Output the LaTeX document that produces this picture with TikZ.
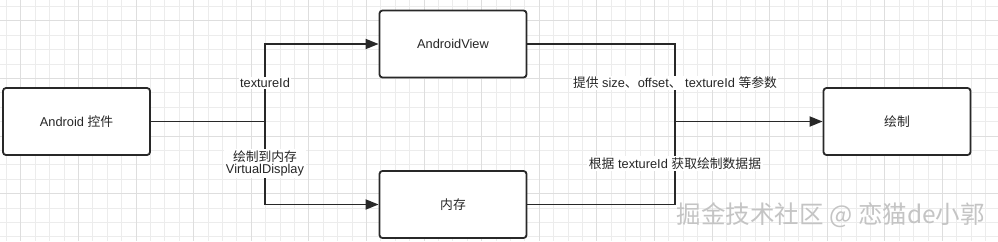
\documentclass[tikz,border=0pt]{standalone}
\usepackage{fontspec}
\setmainfont{Liberation Sans}
\newfontfamily\cjk{Noto Sans CJK SC}
\usetikzlibrary{arrows.meta}
\definecolor{gridminor}{RGB}{236,236,236}
\definecolor{gridmajor}{RGB}{222,222,222}
\definecolor{edge}{RGB}{40,40,40}
\definecolor{wm}{RGB}{196,196,196}
\begin{document}
\begin{tikzpicture}[x=1pt,y=-1pt,
  box/.style={draw=edge,line width=1.8pt,rounded corners=3pt,fill=white,minimum width=147pt,minimum height=67pt,inner sep=0pt,font=\fontsize{12.8}{15}\selectfont,text=black!85},
  conn/.style={draw=edge,line width=1.8pt},
  arr/.style={conn,-{Triangle[length=13pt,width=10pt]}},
  lbl/.style={fill=white,inner sep=1.5pt,font=\fontsize{12.8}{15}\selectfont,text=black!85,align=center}]
\useasboundingbox (0,0) rectangle (998,241);
\fill[white] (0,0) rectangle (998,241);
% grid
\foreach \i in {0,...,69} {
  \pgfmathsetmacro{\gx}{6.3+14.4*\i}
  \draw[gridminor,line width=0.6pt] (\gx,0) -- (\gx,241);
}
\foreach \j in {0,...,16} {
  \pgfmathsetmacro{\gy}{6.3+14.4*\j}
  \draw[gridminor,line width=0.6pt] (0,\gy) -- (998,\gy);
}
\foreach \i in {0,...,17} {
  \pgfmathsetmacro{\gx}{20.7+57.6*\i}
  \draw[gridmajor,line width=0.7pt] (\gx,0) -- (\gx,241);
}
\foreach \j in {0,...,4} {
  \pgfmathsetmacro{\gy}{20.7+57.6*\j}
  \draw[gridmajor,line width=0.7pt] (0,\gy) -- (998,\gy);
}
% nodes
\node[box] (android) at (76.5,121.5) {Android {\cjk 控件}};
\node[box] (view) at (453,44) {AndroidView};
\node[box] (mem) at (453,204.5) {\cjk 内存};
\node[box] (draw) at (897,121.5) {\cjk 绘制};
\coordinate (jl) at (265,121.5);
\coordinate (jr) at (675,121.5);
% connectors
\draw[conn] (android.east) -- (jl);
\draw[arr] (jl) |- (view.west);
\draw[arr] (jl) |- (mem.west);
\draw[conn] (view.east) -| (jr);
\draw[conn] (mem.east) -| (jr);
\draw[arr] (jr) -- (draw.west);
% labels
\node[lbl] (l1) at (265,83) {textureId};
\node[lbl] (l2) at (265,163.5) {{\cjk 绘制到内存}\\[-3pt]VirtualDisplay};
\node[lbl] (l3) at (675,83) {{\cjk 提供} size{\cjk 、}offset{\cjk 、} textureId {\cjk 等参数}};
\node[lbl] (l4) at (675,163.5) {{\cjk 根据} textureId {\cjk 获取绘制数据据}};
% watermark
\node[anchor=east,text=wm,font=\fontsize{24.5}{26}\selectfont\cjk,inner sep=0pt] (wmk) at (985,215) {掘金技术社区 @ 恋猫de小郭};
\end{tikzpicture}
\end{document}
